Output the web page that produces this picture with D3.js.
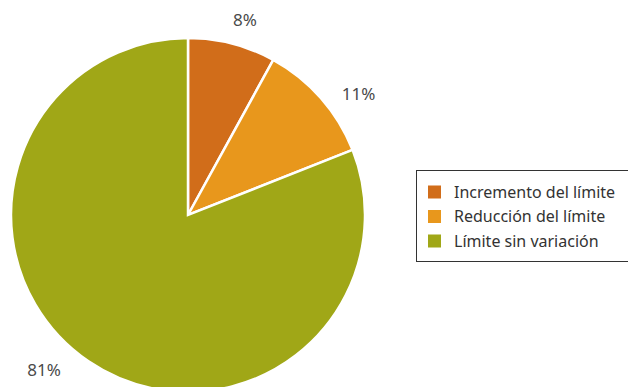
<!DOCTYPE html>
<html>
<head>
<meta charset="utf-8">
<script src="https://cdn.jsdelivr.net/npm/d3@7"></script>
<style>
  html, body { margin: 0; padding: 0; background: #fff; }
  svg { display: block; font-family: "Noto Sans", "Open Sans", sans-serif; }
</style>
</head>
<body>
<svg id="chart" width="628" height="387"></svg>
<script>
// Share of cases by change in the limit (percent)
const categories = ["Incremento del límite", "Reducción del límite", "Límite sin variación"];
const values = [8, 11, 81];
const colors = ["#D16D1A", "#E8971C", "#A0A717"];

const width = 628, height = 387;
const cx = 188, cy = 215, radius = 177;

const svg = d3.select("#chart");

const pie = d3.pie().sort(null).value(d => d.value);
const arcs = pie(categories.map((c, i) => ({ name: c, value: values[i], color: colors[i] })));
const arc = d3.arc().innerRadius(0).outerRadius(radius);

const g = svg.append("g").attr("transform", `translate(${cx},${cy})`);

g.selectAll("path.slice")
  .data(arcs)
  .join("path")
  .attr("class", "slice")
  .attr("d", arc)
  .attr("fill", d => d.data.color)
  .attr("stroke", "#fff")
  .attr("stroke-width", 2.5)
  .attr("stroke-linejoin", "miter");

// Outside-end labels: anchored next to a point just beyond the rim
const anchorArc = d3.arc().innerRadius(radius + 12).outerRadius(radius + 12);
const labels = g.selectAll("text.pct")
  .data(arcs)
  .join("text")
  .attr("class", "pct")
  .attr("font-size", 17)
  .attr("fill", "#4a4a4a")
  .text(d => d.data.value + "%");

labels.each(function(d) {
  const t = d3.select(this);
  const w = this.getComputedTextLength();
  const h = 13;
  const mid = (d.startAngle + d.endAngle) / 2;
  const s = Math.sin(mid), c = Math.cos(mid);
  const [px, py] = anchorArc.centroid(d);
  let x, y;
  if (Math.abs(s) < 0.35) {
    // near the top or bottom: sit above/below the rim point
    x = px + s * (w / 2 + 28) - w / 2;
    y = py - c * (h / 2 + 6) + h / 2;
  } else {
    // on the sides: sit beside the rim point
    x = s > 0 ? px + 12 : px - 21 - w;
    y = py + h / 2 + 3;
  }
  y = Math.min(y, height - 11 - cy);
  t.attr("x", x).attr("y", y);
});

// Legend
const legend = svg.append("g").attr("transform", "translate(416,170)");
legend.append("rect")
  .attr("x", 0.5).attr("y", 0.5)
  .attr("width", 230).attr("height", 91)
  .attr("fill", "#fff")
  .attr("stroke", "#333")
  .attr("stroke-width", 1);

const rowY = d3.scalePoint().domain(categories).range([22, 71]);
const items = legend.selectAll("g.item")
  .data(arcs)
  .join("g")
  .attr("class", "item")
  .attr("transform", d => `translate(12,${rowY(d.data.name)})`);

items.append("rect")
  .attr("x", 0).attr("y", -6.5)
  .attr("width", 13).attr("height", 13)
  .attr("fill", d => d.data.color);

items.append("text")
  .attr("x", 26).attr("y", 5.5)
  .attr("font-size", 16)
  .attr("fill", "#333")
  .text(d => d.data.name);
</script>
</body>
</html>
